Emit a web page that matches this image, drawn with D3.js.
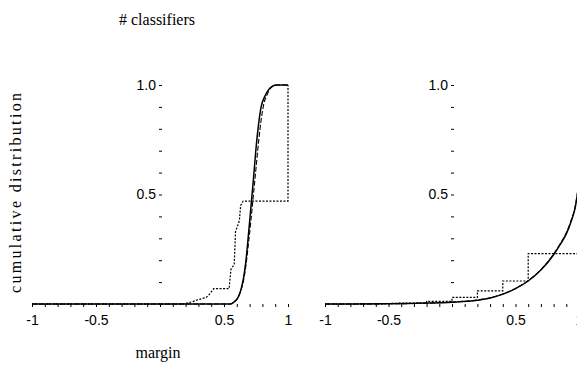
<!DOCTYPE html>
<html>
<head>
<meta charset="utf-8">
<script src="https://cdn.jsdelivr.net/npm/d3@7"></script>
<style>
  body { margin: 0; background: #fff; }
  svg { display: block; }
  .tick text { font-family: "Liberation Sans Narrow", "Liberation Sans", Arial, sans-serif; font-size: 14px; fill: #000; }
</style>
</head>
<body>
<div id="chart"></div>
<script>
var width = 577;
var height = 366;

// tick values / labels
var xTicks = [-1, -0.9, -0.8, -0.7, -0.6, -0.5, -0.4, -0.3, -0.2, -0.1, 0, 0.1, 0.2, 0.3, 0.4, 0.5, 0.6, 0.7, 0.8, 0.9, 1];
var xTickLabels = ['-1', '-0.5', '0.5', '1'];
var yTicks = [0.1, 0.2, 0.3, 0.4, 0.5, 0.6, 0.7, 0.8, 0.9, 1.0];
var yTickLabels = ['0.5', '1.0'];

// left panel
var leftSolidX = [-1, 0.55, 0.58, 0.61, 0.63, 0.65, 0.67, 0.69, 0.71, 0.73, 0.75, 0.77, 0.79, 0.82, 0.85, 0.88, 0.91, 1];
var leftSolidY = [0, 0, 0.01, 0.03, 0.06, 0.11, 0.19, 0.31, 0.44, 0.57, 0.71, 0.82, 0.9, 0.95, 0.98, 0.995, 1, 1];
var leftDashX = [-1, 0.55, 0.58, 0.61, 0.63, 0.65, 0.67, 0.69, 0.71, 0.73, 0.75, 0.77, 0.79, 0.81, 0.84, 0.87, 0.92, 1];
var leftDashY = [0, 0, 0.01, 0.03, 0.06, 0.1, 0.17, 0.27, 0.38, 0.5, 0.62, 0.74, 0.84, 0.91, 0.96, 0.99, 1, 1];
var leftDotX = [-1, 0.18, 0.25, 0.3, 0.36, 0.38, 0.42, 0.54, 0.555, 0.58, 0.59, 0.62, 0.63, 0.65, 1, 1];
var leftDotY = [0, 0, 0.01, 0.02, 0.03, 0.04, 0.07, 0.07, 0.16, 0.18, 0.33, 0.38, 0.45, 0.47, 0.47, 1];

// right panel
var rightSolidX = [-1, -0.5, -0.2, 0, 0.2, 0.3, 0.4, 0.5, 0.6, 0.7, 0.8, 0.85, 0.9, 0.94, 0.97, 0.99];
var rightSolidY = [0, 0.001, 0.004, 0.008, 0.017, 0.027, 0.045, 0.07, 0.105, 0.155, 0.225, 0.27, 0.32, 0.38, 0.44, 0.51];
var rightDashX = [-1, -0.5, -0.2, 0, 0.2, 0.3, 0.4, 0.5, 0.6, 0.7, 0.8, 0.85, 0.9, 0.94, 0.97, 0.99];
var rightDashY = [0, 0.001, 0.004, 0.009, 0.018, 0.028, 0.046, 0.071, 0.107, 0.157, 0.228, 0.273, 0.325, 0.385, 0.445, 0.515];
var rightDotX = [-1, -0.6, -0.4, -0.2, -0.2, 0, 0, 0.2, 0.2, 0.4, 0.4, 0.6, 0.6, 1];
var rightDotY = [0, 0, 0.004, 0.004, 0.012, 0.012, 0.03, 0.03, 0.06, 0.06, 0.105, 0.105, 0.23, 0.23];

var svg = d3.select('#chart').append('svg')
  .attr('width', width)
  .attr('height', height);

var y = d3.scaleLinear().domain([0, 1]).range([304, 85]);

var panels = [
  { x: d3.scaleLinear().domain([-1, 1]).range([32, 288]),
    series: [[leftDotX, leftDotY, 'dot'], [leftDashX, leftDashY, 'dash'], [leftSolidX, leftSolidY, 'solid']] },
  { x: d3.scaleLinear().domain([-1, 1]).range([325, 579]),
    series: [[rightDotX, rightDotY, 'dot'], [rightDashX, rightDashY, 'dash'], [rightSolidX, rightSolidY, 'solid']] }
];

var styles = {
  solid: { w: 1.5, dash: null },
  dash: { w: 1.1, dash: '5,2' },
  dot: { w: 1.2, dash: '2,1.5' }
};

// plain hyphen, not unicode minus
function hyphen(d, digits) {
  return (d < 0 ? '-' : '') + Math.abs(d).toFixed(digits);
}

panels.forEach(function (p) {
  var xAxis = d3.axisBottom(p.x)
    .tickValues(xTicks)
    .tickSize(3)
    .tickPadding(8)
    .tickFormat(function (d) {
      var s = hyphen(d, Number.isInteger(d) ? 0 : 1);
      return xTickLabels.indexOf(s) >= 0 ? s : '';
    });
  var gx = svg.append('g').attr('transform', 'translate(0,' + y(0) + ')').call(xAxis);
  gx.select('.domain').remove();
  gx.selectAll('.tick line').attr('stroke', '#000');

  var yAxis = d3.axisLeft(y)
    .tickValues(yTicks)
    .tickSize(3)
    .tickPadding(3)
    .tickFormat(function (d) {
      var s = d.toFixed(1);
      return yTickLabels.indexOf(s) >= 0 ? s : '';
    });
  var gy = svg.append('g').attr('transform', 'translate(' + (p.x(0) + 2) + ',0)').call(yAxis);
  gy.select('.domain').remove();
  gy.selectAll('.tick line').attr('stroke', '#000');

  p.series.forEach(function (s) {
    var pts = s[0].map(function (v, i) { return [v, s[1][i]]; });
    var line = d3.line()
      .x(function (d) { return p.x(d[0]); })
      .y(function (d) { return y(d[1]); })
      .curve(s[2] === 'dot' ? d3.curveLinear : d3.curveMonotoneX);
    svg.append('path')
      .datum(pts)
      .attr('d', line)
      .attr('fill', 'none')
      .attr('stroke', '#000')
      .attr('stroke-width', styles[s[2]].w)
      .attr('stroke-dasharray', styles[s[2]].dash);
  });
});

var serif = '"Liberation Serif", "Times New Roman", Times, serif';

svg.append('text')
  .attr('x', 157).attr('y', 25)
  .attr('text-anchor', 'middle')
  .style('font-family', serif).style('font-size', '16px')
  .text('# classifiers');

svg.append('text')
  .attr('x', 158).attr('y', 358)
  .attr('text-anchor', 'middle')
  .style('font-family', serif).style('font-size', '16px')
  .text('margin');

svg.append('text')
  .attr('transform', 'translate(21,193) rotate(-90)')
  .attr('text-anchor', 'middle')
  .attr('textLength', 200)
  .attr('lengthAdjust', 'spacing')
  .style('font-family', serif).style('font-size', '16px')
  .text('cumulative distribution');
</script>
</body>
</html>
